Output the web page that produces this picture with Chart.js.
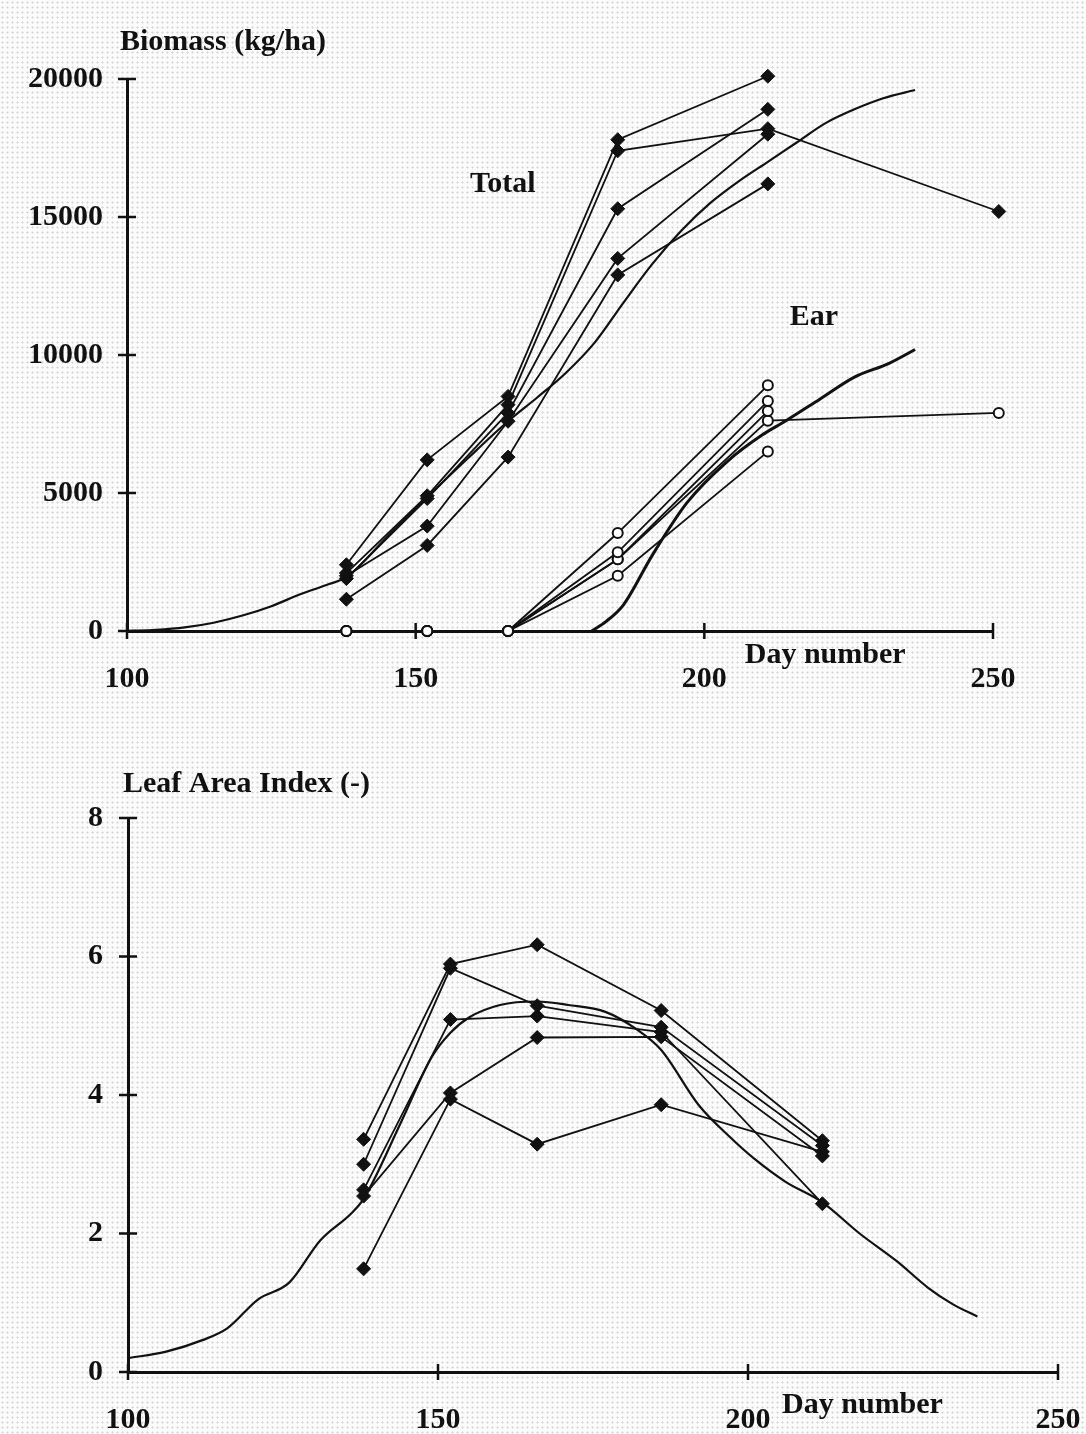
<!DOCTYPE html>
<html>
<head>
<meta charset="utf-8">
<script src="https://cdn.jsdelivr.net/npm/chart.js@4.4.1/dist/chart.umd.min.js"></script>
<style>
  html, body { margin: 0; padding: 0; }
  body {
    width: 1086px; height: 1434px; overflow: hidden;
    background-color: #fbfbfb;
    background-image: radial-gradient(#d6d6d6 0.9px, transparent 1.2px);
    background-size: 5px 5px;
  }
  .box { position: absolute; left: 0; width: 1086px; height: 717px; }
  #top { top: 0; }
  #bottom { top: 717px; }
</style>
</head>
<body>
<div class="box" id="top"><canvas id="biomassChart" width="1086" height="717"></canvas></div>
<div class="box" id="bottom"><canvas id="laiChart" width="1086" height="717"></canvas></div>
<script>
// Dias de amostragem
const obsDays = [138, 152, 166, 185, 211];
const obsDaysLate = [138, 152, 166, 185, 211, 251];
const laiDays = [138, 152, 166, 186, 212];

// Biomassa total observada (kg/ha)
const total1 = [2400, 6200, 8500, 17800, 20100];
const total2 = [2100, 4900, 8200, 17400, 18200, 15200];
const total3 = [1900, 4800, 7900, 15300, 18900];
const total4 = [2000, 3800, 7600, 13500, 18000];
const total5 = [1150, 3100, 6300, 12900, 16200];

// Biomassa da espiga observada (kg/ha)
const ear1 = [0, 0, 0, 3550, 8900];
const ear2 = [0, 0, 0, 2850, 8330];
const ear3 = [0, 0, 0, 2600, 7970];
const ear4 = [0, 0, 0, 2600, 7620, 7900];
const ear5 = [0, 0, 0, 2000, 6500];

// Curvas simuladas
const simTotalDays = [100, 105, 110, 115, 120, 125, 130, 135, 138, 145, 152, 159, 166, 171, 176, 181, 186, 191, 196, 201, 206, 211, 216, 221, 226, 231, 236.5];
const simTotalVals = [0, 40, 130, 300, 560, 900, 1330, 1700, 1950, 3400, 4850, 6250, 7600, 8450, 9350, 10450, 11900, 13300, 14500, 15500, 16300, 17000, 17700, 18400, 18900, 19300, 19600];
const simEarDays = [180.5, 183, 186, 191, 197, 204, 210, 214, 220, 226, 232, 236.5];
const simEarVals = [0, 350, 950, 2750, 4650, 6150, 7100, 7600, 8400, 9200, 9700, 10200];

// Índice de área foliar observado
const lai1 = [3.36, 5.89, 6.17, 5.22, 3.34];
const lai2 = [3.0, 5.83, 5.29, 4.98, 3.27];
const lai3 = [2.63, 5.09, 5.14, 4.91, 2.43];
const lai4 = [2.54, 4.03, 4.83, 4.84, 3.12];
const lai5 = [1.49, 3.94, 3.29, 3.86, 3.18];

const simLaiDays = [100, 106, 112, 116, 121, 126, 131, 136, 138, 144, 149, 152, 155, 160, 166, 171, 177, 182, 186, 192, 197, 201, 206, 212, 218, 224, 229, 233, 237];
const simLaiVals = [0.2, 0.29, 0.46, 0.63, 1.05, 1.29, 1.9, 2.29, 2.5, 3.6, 4.55, 4.9, 5.12, 5.3, 5.35, 5.3, 5.2, 4.95, 4.65, 3.86, 3.4, 3.08, 2.75, 2.45, 2.0, 1.6, 1.22, 0.98, 0.8];

const INK = '#111';
const FONT = '"Liberation Serif", "DejaVu Serif", serif';

function pts(days, vals) {
    return vals.map((v, i) => ({ x: days[i], y: v }));
}

function obsSet(days, vals, open) {
    return {
        data: pts(days, vals),
        borderColor: INK,
        borderWidth: 1.8,
        pointStyle: open ? 'circle' : 'rectRot',
        pointRadius: open ? 5 : 7,
        pointBackgroundColor: open ? '#fff' : INK,
        pointBorderColor: INK,
        pointBorderWidth: open ? 2 : 1,
        tension: 0,
        clip: false
    };
}

function simSet(days, vals, width) {
    return {
        data: pts(days, vals),
        borderColor: INK,
        borderWidth: width,
        pointRadius: 0,
        cubicInterpolationMode: 'monotone',
        clip: false
    };
}

// Desenha marcas cruzando os eixos e os textos
const axisDecor = {
    id: 'axisDecor',
    afterDraw(chart, args, opts) {
        const { ctx, chartArea, scales: { x, y } } = chart;
        ctx.save();
        ctx.strokeStyle = INK;
        ctx.lineWidth = 2.5;
        ctx.beginPath();
        x.ticks.forEach(t => {
            const px = x.getPixelForValue(t.value);
            ctx.moveTo(px, chartArea.bottom - 8);
            ctx.lineTo(px, chartArea.bottom + 8);
        });
        y.ticks.forEach(t => {
            const py = y.getPixelForValue(t.value);
            ctx.moveTo(chartArea.left - 9, py);
            ctx.lineTo(chartArea.left + 9, py);
        });
        ctx.stroke();

        ctx.fillStyle = INK;
        ctx.font = 'bold 30px ' + FONT;
        ctx.textBaseline = 'alphabetic';
        opts.labels.forEach(l => {
            const px = l.day !== undefined ? x.getPixelForValue(l.day) : chartArea.left + l.dx;
            const py = l.val !== undefined ? y.getPixelForValue(l.val) : (l.fromBottom ? chartArea.bottom + l.dy : chartArea.top + l.dy);
            ctx.fillText(l.text, px, py);
        });
        ctx.restore();
    }
};

function axes(yMax, yStep, yPad, canvasH, bottomPx) {
    return {
        x: {
            type: 'linear', min: 100, max: 250,
            border: { display: true, color: INK, width: 3 },
            // marcas invisíveis só para afastar os rótulos do eixo
            grid: { drawOnChartArea: false, drawTicks: true, tickLength: 27, tickColor: 'rgba(0,0,0,0)' },
            ticks: { stepSize: 50, padding: 3, color: INK, font: { family: FONT, size: 30, weight: 'bold' } },
            afterFit: s => { s.height = canvasH - bottomPx; }
        },
        y: {
            min: 0, max: yMax,
            border: { display: true, color: INK, width: 3 },
            grid: { drawOnChartArea: false, drawTicks: false },
            ticks: {
                stepSize: yStep, padding: yPad, color: INK,
                font: { family: FONT, size: 30, weight: 'bold' },
                callback: v => String(v)
            },
            afterFit: s => { s.width = 127; }
        }
    };
}

const biomassChart = new Chart(document.getElementById('biomassChart').getContext('2d'), {
    type: 'line',
    data: {
        datasets: [
            simSet(simTotalDays, simTotalVals, 2.2),
            simSet(simEarDays, simEarVals, 3),
            obsSet(obsDays, total1),
            obsSet(obsDaysLate, total2),
            obsSet(obsDays, total3),
            obsSet(obsDays, total4),
            obsSet(obsDays, total5),
            obsSet(obsDays, ear1, true),
            obsSet(obsDays, ear2, true),
            obsSet(obsDays, ear3, true),
            obsSet(obsDaysLate, ear4, true),
            obsSet(obsDays, ear5, true)
        ]
    },
    options: {
        responsive: false,
        animation: false,
        layout: { padding: { left: 0, right: 93, top: 79, bottom: 0 } },
        plugins: {
            legend: { display: false },
            tooltip: { enabled: false },
            axisDecor: {
                labels: [
                    { text: 'Biomass (kg/ha)', dx: -7, dy: -29 },
                    { text: 'Total', day: 159.4, val: 15900 },
                    { text: 'Ear', day: 214.8, val: 11100 },
                    { text: 'Day number', day: 207, dy: 32, fromBottom: true }
                ]
            }
        },
        scales: axes(20000, 5000, 24, 717, 631)
    },
    plugins: [axisDecor]
});

const laiChart = new Chart(document.getElementById('laiChart').getContext('2d'), {
    type: 'line',
    data: {
        datasets: [
            simSet(simLaiDays, simLaiVals, 2.2),
            obsSet(laiDays, lai1),
            obsSet(laiDays, lai2),
            obsSet(laiDays, lai3),
            obsSet(laiDays, lai4),
            obsSet(laiDays, lai5)
        ]
    },
    options: {
        responsive: false,
        animation: false,
        layout: { padding: { left: 1, right: 28, top: 101, bottom: 0 } },
        plugins: {
            legend: { display: false },
            tooltip: { enabled: false },
            axisDecor: {
                labels: [
                    { text: 'Leaf Area Index (-)', dx: -5, dy: -26 },
                    { text: 'Day number', day: 205.5, dy: 41, fromBottom: true }
                ]
            }
        },
        scales: axes(8, 2, 25, 717, 655)
    },
    plugins: [axisDecor]
});
</script>
</body>
</html>
